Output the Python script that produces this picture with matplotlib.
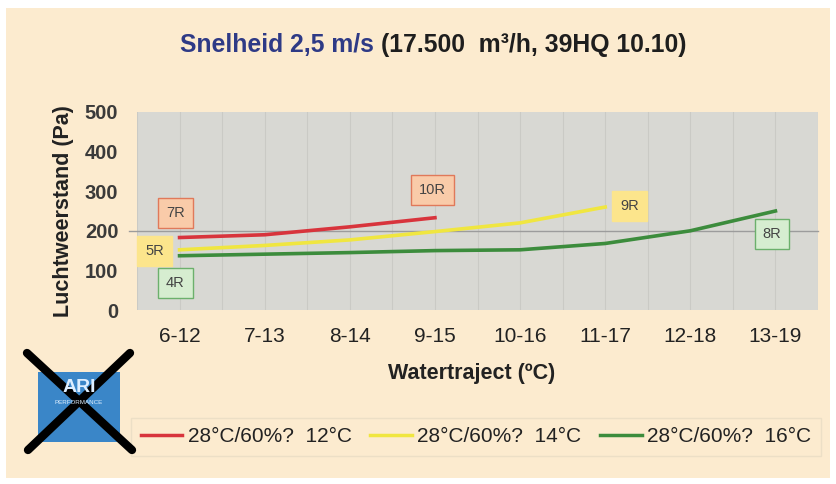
import matplotlib
matplotlib.use("Agg")
import matplotlib.pyplot as plt
from matplotlib.patches import Rectangle
from matplotlib.lines import Line2D

plt.rcParams['font.family'] = ['Liberation Sans', 'DejaVu Sans']

categories = ["6-12", "7-13", "8-14", "9-15", "10-16", "11-17", "12-18", "13-19"]
red_vals = [183, 190, 210, 233]
yellow_vals = [152, 163, 177, 198, 220, 260]
green_vals = [137, 141, 145, 150, 152, 168, 200, 250]
series_labels = ["28°C/60%?  12°C", "28°C/60%?  14°C", "28°C/60%?  16°C"]
box_labels = ["7R", "5R", "4R", "10R", "9R", "8R"]
box_x = [-0.05, -0.29, -0.05, 2.97, 5.29, 6.96]
box_y = [246, 150, 68, 303, 263, 192]
box_kind = ["r", "y", "g", "r", "y", "g"]
yticks = [0, 100, 200, 300, 400, 500]

W, H = 836, 484
BG = "#FCEBCF"
fig = plt.figure(figsize=(W/100, H/100), dpi=100, facecolor="white")
fig.patches.append(Rectangle((6/W, 1-478/H), 824/W, 470/H, transform=fig.transFigure,
                             facecolor=BG, edgecolor="none", zorder=-10))

ax = fig.add_axes([137/W, 1-310/H, 681/W, 198/H])
ax.set_facecolor("#D8D8D3")
for s in ax.spines.values():
    s.set_visible(False)
ax.set_xlim(-0.5, len(categories)-0.5)
ax.set_ylim(0, 500)
for i in range(2*len(categories)+1):
    ax.axvline(-0.5 + 0.5*i, color="#CACAC5", lw=0.8, zorder=0)
ax.axhline(200, xmin=-0.012, xmax=1.0, color="#9C9C9C", lw=1.0, zorder=1, clip_on=False)

red_c, yel_c, grn_c = "#D8343C", "#F0E640", "#3C8C3C"
ax.plot(range(len(red_vals)), red_vals, color=red_c, lw=2.6, label=series_labels[0], zorder=3)
ax.plot(range(len(yellow_vals)), yellow_vals, color=yel_c, lw=2.6, label=series_labels[1], zorder=3)
ax.plot(range(len(green_vals)), green_vals, color=grn_c, lw=2.6, label=series_labels[2], zorder=3)

ax.set_xticks(range(len(categories)))
ax.set_xticklabels(categories, fontsize=15, color="#222222")
ax.set_yticks(yticks)
ax.set_yticklabels([str(v) for v in yticks], fontsize=14.5, color="#3A3A3A", fontweight="bold")
ax.tick_params(axis="both", length=0)
ax.tick_params(axis="x", pad=12)
ax.tick_params(axis="y", pad=13.5)

fig.text(472/W, 1-374/H, "Watertraject (ºC)", fontsize=15.5, fontweight="bold", color="#222222",
         ha="center", va="center")
fig.text(63/W, 1-211/H, "Luchtweerstand (Pa)", fontsize=15.5, fontweight="bold", color="#222222",
         ha="center", va="center", rotation=90)

styles = {"r": ("#F9CBA9", "#E0795A"), "y": ("#FCE58C", "#FCE58C"), "g": ("#D6EDD0", "#6CB06C")}
for t, x, y, k in zip(box_labels, box_x, box_y, box_kind):
    fc, ec = styles[k]
    ax.text(x, y, t, fontsize=10.5, color="#444444", ha="center", va="center", zorder=5,
            bbox=dict(boxstyle="square,pad=0.55", fc=fc, ec=ec, lw=1.0))

# title
t1 = fig.text(180/W, 1-45/H, "Snelheid 2,5 m/s", fontsize=17.8, fontweight="bold",
              color="#2E3A86", ha="left", va="center")
fig.canvas.draw()
bb = t1.get_window_extent()
fig.text(bb.x1/W + 7/W, 1-45/H, "(17.500  m³/h, 39HQ 10.10)", fontsize=17.8,
         fontweight="bold", color="#1E1E1E", ha="left", va="center")

# legend
handles = [Line2D([], [], color=red_c, lw=2.5), Line2D([], [], color=yel_c, lw=2.5),
           Line2D([], [], color=grn_c, lw=2.5)]
leg = fig.legend(handles, series_labels, loc="center", bbox_to_anchor=(476/W, 1-437/H),
                 ncol=3, frameon=True, fontsize=15, handlelength=2.0, handletextpad=0.25,
                 columnspacing=0.9, fancybox=False, borderpad=0.45, borderaxespad=0.0)
leg.get_frame().set_facecolor(BG)
leg.get_frame().set_edgecolor("#E8DCC4")
leg.set_zorder(0)
for txt in leg.get_texts():
    txt.set_color("#222222")

# crossed-out logo
fig.patches.append(Rectangle((38/W, 1-442/H), 82/W, 70/H, transform=fig.transFigure,
                             facecolor="#3A86C8", edgecolor="none", zorder=1))
fig.text(79/W, 1-402/H, "PERFORMANCE", fontsize=4.5, color="#DDEEFF", ha="center", va="center")
fig.text(79/W, 1-387/H, "ARI", fontsize=14, fontweight="bold", color="#DDEEFF", ha="center", va="center")
fig.lines.append(Line2D([27/W, 132/W], [1-353/H, 1-450/H], transform=fig.transFigure,
                        color="black", lw=6, solid_capstyle="round", zorder=3))
fig.lines.append(Line2D([130/W, 28/W], [1-353/H, 1-450/H], transform=fig.transFigure,
                        color="black", lw=6, solid_capstyle="round", zorder=3))

fig.savefig("out.png", dpi=100, facecolor="white")
